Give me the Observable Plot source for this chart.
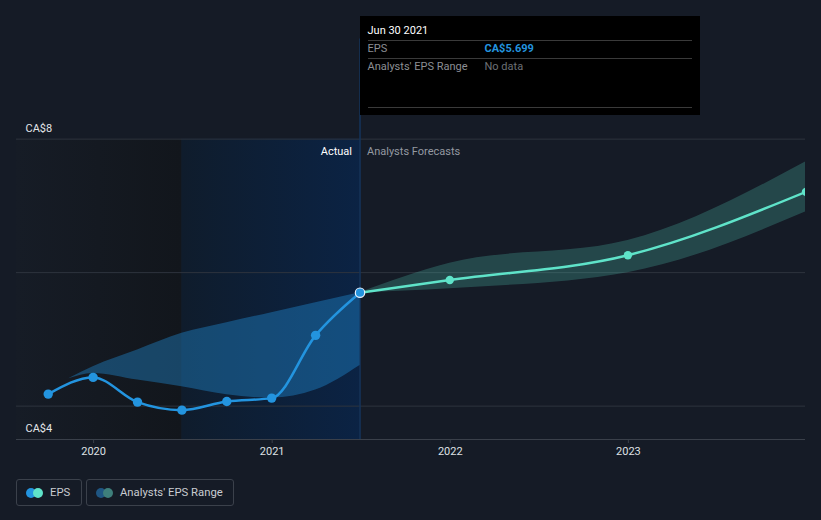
<!DOCTYPE html>
<html>
<head>
<meta charset="utf-8">
<script src="https://cdn.jsdelivr.net/npm/d3@7"></script>
<script src="https://cdn.jsdelivr.net/npm/@observablehq/plot@0.6"></script>
<style>
  html, body { margin: 0; padding: 0; background: #151b26; }
  body { font-family: Roboto, "Noto Sans", sans-serif; width: 821px; height: 520px; overflow: hidden; }
  #wrap { position: relative; width: 821px; height: 520px; }
  #tip { position: absolute; top: 16px; width: 340px; height: 99px; background: #000; box-sizing: border-box; padding: 0 8px; font-size: 11px; }
  #tip .hd { color: #fff; height: 24px; line-height: 29px; border-bottom: 1px solid #3a3a3a; }
  #tip .row { height: 17px; line-height: 16px; display: flex; color: #8c8f94; border-bottom: 1px solid #3a3a3a; }
  #tip .row.last { height: 48px; border-bottom: 1px solid #3a3a3a; line-height: 16px; }
  #tip .row .k { width: 117px; }
  .item { position: absolute; top: 479px; height: 27px; box-sizing: border-box; border: 1px solid #3b414b; border-radius: 3px; color: #c9ccd1; font-size: 11.3px; }
  .item .lbl { position: absolute; top: 0; line-height: 25px; white-space: nowrap; }
  .item span.c { position: absolute; top: 8px; width: 10px; height: 10px; border-radius: 50%; }
</style>
</head>
<body>
<div id="wrap"></div>
<script>
// ---- data ----
const epsDates = ["2019-09-30","2019-12-31","2020-03-31","2020-06-30","2020-09-30","2020-12-31","2021-03-31","2021-06-30"];
const epsValues = [4.18, 4.43, 4.06, 3.94, 4.07, 4.12, 5.06, 5.699];

const forecastDates = ["2021-06-30","2021-12-31","2022-12-31","2023-12-31"];
const forecastValues = [5.699, 5.89, 6.26, 7.21];
const forecastLow = [5.699, 5.76, 6.00, 6.91];
const forecastHigh = [5.699, 6.14, 6.48, 7.66];

const pastRangeDates = ["2019-11-11","2019-12-31","2020-03-31","2020-06-30","2020-09-30","2020-12-31","2021-03-31","2021-06-30"];
const pastRangeLow = [4.41, 4.49, 4.39, 4.29, 4.17, 4.12, 4.24, 4.61];
const pastRangeHigh = [4.41, 4.59, 4.84, 5.09, 5.25, 5.40, 5.55, 5.70];

const yGridValues = [4, 6, 8];
const yLabelValues = [4, 8];
const yLabelTexts = ["CA$4", "CA$8"];
const xTickYears = ["2020-01-01","2021-01-01","2022-01-01","2023-01-01"];
const xDomain = ["2019-07-27","2023-12-30"];
const yDomain = [3.5, 9.5];
const shadeStart = "2019-07-27";
const shadeMid = "2020-06-30";
const todayDate = "2021-06-30";

// ---- build tables ----
const P = d3.utcParse("%Y-%m-%d");
const eps = epsDates.map((d, i) => ({date: P(d), value: epsValues[i]}));
const fc = forecastDates.map((d, i) => ({date: P(d), value: forecastValues[i], lo: forecastLow[i], hi: forecastHigh[i]}));
const past = pastRangeDates.map((d, i) => ({date: P(d), lo: pastRangeLow[i], hi: pastRangeHigh[i]}));
const today = P(todayDate);

const W = 821, H = 470;
const plot = Plot.plot({
  width: W,
  height: H,
  marginLeft: 16,
  marginRight: 16,
  marginTop: 38.5,
  marginBottom: H - 439,
  style: {background: "transparent", fontFamily: "Roboto, 'Noto Sans', sans-serif", fontSize: "11px", color: "#d4d6da"},
  x: {type: "utc", domain: xDomain.map(P)},
  y: {domain: yDomain},
  marks: [
    Plot.rect([{x1: P(shadeStart), x2: P(shadeMid)}], {x1: "x1", x2: "x2", y1: 3.5, y2: 8, fill: "url(#gDark)"}),
    Plot.rect([{x1: P(shadeMid), x2: today}], {x1: "x1", x2: "x2", y1: 3.5, y2: 8, fill: "url(#gBlue)"}),
    Plot.ruleY(yGridValues, {stroke: "#2e343e", strokeWidth: 1}),
    Plot.ruleX([today], {y1: 3.5, y2: 9.5, stroke: "#14345c", strokeWidth: 1.5}),
    Plot.areaY(past, {x: "date", y1: "lo", y2: "hi", fill: "#2394df", fillOpacity: 0.38, curve: "monotone-x"}),
    Plot.areaY(fc, {x: "date", y1: "lo", y2: "hi", fill: "#58d6c0", fillOpacity: 0.24, curve: "monotone-x", clip: true}),
    Plot.line(fc, {x: "date", y: "value", stroke: "#5fe3c9", strokeWidth: 2.5, curve: "monotone-x", clip: true}),
    Plot.line(eps, {x: "date", y: "value", stroke: "#2394df", strokeWidth: 2.5, curve: "monotone-x"}),
    Plot.dot(fc.slice(1), {x: "date", y: "value", r: 4.2, fill: "#5fe3c9", clip: true}),
    Plot.dot(eps.slice(0, -1), {x: "date", y: "value", r: 4.7, fill: "#2394df"}),
    Plot.dot(eps.slice(-1), {x: "date", y: "value", r: 4.7, fill: "#2394df", stroke: "#e8f2ff", strokeWidth: 1.2}),
    Plot.ruleY([3.5], {stroke: "#3a404a", strokeWidth: 1}),
    Plot.axisX(xTickYears.map(P), {tickFormat: d3.utcFormat("%Y"), tickSize: 4, tickPadding: 4, stroke: "#3a404a", fill: "#dfe1e4", fontSize: 11, label: null}),
    Plot.axisY({ticks: []}),
    Plot.text(yLabelValues.map((v, i) => ({v, t: yLabelTexts[i]})), {x: P(xDomain[0]), y: "v", text: "t", textAnchor: "start", dx: 9, fill: "#e4e6e9", fontSize: 11}),
    Plot.text([{d: today}], {x: "d", y: 8, text: () => "Actual", textAnchor: "end", dx: -8, dy: 12, fill: "#ffffff", fontSize: 11}),
    Plot.text([{d: today}], {x: "d", y: 8, text: () => "Analysts Forecasts", textAnchor: "start", dx: 7, dy: 12, fill: "#9499a1", fontSize: 11})
  ]
});

// CA$8 sits above its grid line, CA$4 below
const svg = d3.select(plot);
svg.selectAll("text").filter(function() { return this.textContent === yLabelTexts[1]; }).attr("dy", "-1.0em");
svg.selectAll("text").filter(function() { return this.textContent === yLabelTexts[0]; }).attr("dy", "2.0em");

const defs = svg.insert("defs", ":first-child");
const g1 = defs.append("linearGradient").attr("id", "gDark").attr("x1", "0").attr("x2", "1").attr("y1", "0").attr("y2", "0");
g1.append("stop").attr("offset", "0").attr("stop-color", "#161c26");
g1.append("stop").attr("offset", "1").attr("stop-color", "#12161c");
const g2 = defs.append("linearGradient").attr("id", "gBlue").attr("x1", "0").attr("x2", "1").attr("y1", "0").attr("y2", "0");
g2.append("stop").attr("offset", "0").attr("stop-color", "#0f1c2c");
g2.append("stop").attr("offset", "1").attr("stop-color", "#0b2344");

const wrap = document.getElementById("wrap");
wrap.appendChild(plot);

// tooltip
const tx = plot.scale("x").apply(today);
const tip = document.createElement("div");
tip.id = "tip";
tip.style.left = tx + "px";
const fmt = d3.utcFormat("%b %d %Y");
tip.innerHTML = `<div class="hd">${fmt(today)}</div>
<div class="row"><span class="k">EPS</span><span style="color:#2394df;font-weight:bold">CA$${epsValues[epsValues.length-1].toFixed(3)}</span></div>
<div class="row last"><span class="k">Analysts' EPS Range</span><span style="color:#6c7075">No data</span></div>`;
wrap.appendChild(tip);

// legend
const legendItems = [
  {label: "EPS", colors: ["#2394df", "#5fe3c9"], left: 16, width: 66},
  {label: "Analysts' EPS Range", colors: ["#1f5683", "#3e7f7b"], left: 86, width: 148}
];
for (const it of legendItems) {
  const el = document.createElement("div");
  el.className = "item";
  el.style.left = it.left + "px";
  el.style.width = it.width + "px";
  el.innerHTML = `<span class="c" style="left:9px;background:${it.colors[0]}"></span><span class="c" style="left:16px;background:${it.colors[1]}"></span><span class="lbl" style="left:33px">${it.label}</span>`;
  wrap.appendChild(el);
}
</script>
</body>
</html>
